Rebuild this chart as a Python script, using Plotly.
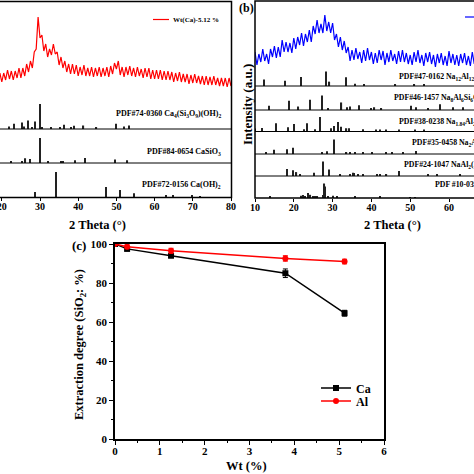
import numpy as np
import plotly.graph_objects as go

W = H = 474

# ---------------- data: panel (a) ----------------
a_start, a_step = 19.5, 0.5
a_red = [124, 115, 124, 117, 127, 118, 126, 117, 126, 119, 129, 119, 129, 121, 133, 125, 136, 129, 145, 148,
         180, 159, 162, 146, 153, 140, 148, 142, 153, 143, 145, 132, 140, 129, 136, 125, 133, 123, 133, 123,
         132, 121, 130, 122, 132, 121, 129, 121, 130, 120, 129, 121, 130, 120, 129, 121, 130, 120, 131, 123,
         134, 128, 136, 122, 130, 120, 130, 122, 131, 121, 129, 120, 130, 121, 128, 119, 129, 120, 129, 118,
         127, 118, 127, 118, 127, 117, 126, 117, 126, 117, 125, 115, 124, 116, 125, 115, 123, 115, 123, 113,
         122, 114, 123, 114, 121, 113, 121, 112, 121, 112, 120, 112, 121, 112, 119, 111, 119, 111, 119, 110,
         119, 111]
a_theta = a_start + a_step * np.arange(len(a_red))

a_names = ["PDF#74-0360 Ca<sub>4</sub>(Si<sub>3</sub>O<sub>9</sub>)(OH)<sub>2</sub>",
           "PDF#84-0654 CaSiO<sub>3</sub>",
           "PDF#72-0156 Ca(OH)<sub>2</sub>"]
a_pos = [
    [21.8, 23.1, 25.2, 25.8, 26.8, 27.9, 28.8, 29.9, 30.5, 32.8, 35.2, 36.2, 38.2, 39.0, 41.4, 44.8, 49.8, 52.0, 53.2],
    [22.5, 25.3, 26.2, 27.3, 30.1, 32.1, 35.4, 36.0, 39.1, 41.7, 49.6, 52.9],
    [18.1, 28.6, 34.1, 47.3, 50.9, 54.6, 62.9, 64.8, 69.8, 71.8],
]
a_int = [
    [0.10, 0.21, 0.26, 0.10, 0.34, 0.08, 0.30, 1.0, 0.08, 0.05, 0.08, 0.17, 0.08, 0.13, 0.14, 0.05, 0.21, 0.10, 0.14],
    [0.05, 0.08, 0.19, 0.16, 1.0, 0.08, 0.05, 0.07, 0.11, 0.20, 0.14, 0.11],
    [0.70, 0.20, 1.0, 0.40, 0.28, 0.15, 0.06, 0.08, 0.05, 0.04],
]

# ---------------- data: panel (b) ----------------
b_start, b_step = 10.0, 0.5
b_blue = [146, 133, 144, 136, 149, 137, 144, 134, 149, 141,
          152, 140, 151, 141, 158, 146, 156, 146, 155, 145,
          160, 149, 161, 153, 165, 152, 164, 156, 168, 156,
          172, 164, 178, 165, 174, 165, 183, 167, 176, 165,
          175, 158, 164, 151, 161, 148, 157, 145, 151, 137,
          148, 138, 150, 139, 146, 135, 148, 137, 150, 138,
          146, 134, 145, 135, 148, 138, 147, 133, 145, 136,
          148, 137, 144, 134, 147, 136, 148, 136, 145, 134,
          143, 133, 146, 136, 148, 135, 143, 132, 145, 136,
          146, 134, 143, 131, 144, 135, 145, 133, 142, 132,
          147, 135, 144, 133, 143, 132, 144, 135, 145, 133,
          142, 132, 146, 134, 143]
b_theta = b_start + b_step * np.arange(len(b_blue))

b_names = ["PDF#47-0162 Na<sub>12</sub>Al<sub>12</sub>Si<sub>12</sub>O<sub>48</sub>·27H<sub>2</sub>O",
           "PDF#46-1457 Na<sub>8</sub>Al<sub>6</sub>Si<sub>6</sub>O<sub>24</sub>(OH)<sub>2</sub>(H<sub>2</sub>O)<sub>2</sub>",
           "PDF#38-0238 Na<sub>1.84</sub>Al<sub>2</sub>Si<sub>2.88</sub>O<sub>9.68</sub>·2.4H<sub>2</sub>O",
           "PDF#35-0458 Na<sub>2</sub>Al<sub>2</sub>Si<sub>3</sub>O<sub>10</sub>·2H<sub>2</sub>O",
           "PDF#24-1047 NaAl<sub>2</sub>(AlSi<sub>3</sub>O<sub>10</sub>)(OH)<sub>2</sub>",
           "PDF #10-0393 NaAlSi<sub>3</sub>O<sub>8</sub>"]
b_pos = [
    [12.3, 17.7, 21.8, 28.3, 29.2, 33.5, 35.8, 38.1, 46.2, 51.1, 53.6],
    [13.7, 18.8, 21.2, 24.1, 27.3, 28.9, 32.3, 33.8, 34.5, 36.8, 39.8, 40.8, 42.6, 50.1, 51.5, 54.7, 57.7, 61.1, 63.5],
    [10.0, 11.7, 15.4, 18.6, 20.1, 22.6, 23.5, 25.5, 26.8, 29.5, 30.4, 31.3, 32.2, 33.6, 34.3, 37.9, 41.2, 42.2, 43.8, 47.2, 51.2, 53.6],
    [12.8, 14.9, 18.3, 19.7, 27.2, 28.5, 30.4, 33.6, 34.5, 35.8, 37.9, 40.1, 43.8, 45.2, 48.2, 51.4],
    [18.2, 19.7, 20.7, 21.6, 25.2, 27.6, 29.1, 31.9, 34.5, 35.3, 35.6, 36.6, 37.9, 41.4, 42.2, 43.9, 47.2, 54.6, 56.8, 62.8],
    [13.9, 21.8, 22.3, 22.9, 23.7, 24.3, 24.9, 25.5, 26.1, 27.6, 27.9, 28.1, 28.9, 30.2, 31.2, 35.8, 42.2, 50.0, 51.2],
]
b_int = [
    [0.44, 0.36, 0.62, 1.0, 0.30, 0.60, 0.15, 0.13, 0.10, 0.08, 0.08],
    [0.29, 0.64, 0.24, 0.71, 1.0, 0.07, 0.52, 0.19, 0.24, 0.33, 0.12, 0.19, 0.12, 0.29, 0.19, 0.12, 0.40, 0.19, 0.19],
    [0.20, 0.24, 0.57, 0.30, 0.51, 0.16, 0.57, 0.16, 1.0, 0.22, 0.38, 0.65, 0.32, 0.22, 0.22, 0.16, 0.10, 0.10, 0.10, 0.08, 0.08, 0.08],
    [0.14, 0.29, 0.33, 0.43, 0.14, 0.19, 1.0, 0.14, 0.10, 0.14, 0.07, 0.07, 0.14, 0.10, 0.07, 0.20],
    [0.49, 0.40, 0.27, 0.13, 0.22, 1.0, 0.44, 0.09, 0.13, 0.22, 0.20, 0.13, 0.09, 0.13, 0.09, 0.13, 0.35, 0.07, 0.07, 0.07],
    [0.07, 0.15, 0.20, 0.13, 0.35, 0.22, 0.13, 0.10, 0.07, 0.20, 1.0, 0.80, 0.10, 0.15, 0.07, 0.07, 0.07, 0.06, 0.06],
]

# ---------------- data: panel (c) ----------------
wt = [0, 0.27, 1.25, 3.8, 5.12]
ca = [100, 97.5, 94.0, 85.0, 64.5]
ca_err = [0.5, 1.0, 1.0, 2.2, 1.5]
al = [100, 98.6, 96.5, 92.6, 91.0]
al_err = [0.5, 1.0, 1.3, 1.4, 1.2]
c_xticks = [0, 1, 2, 3, 4, 5, 6]
c_yticks = [0, 20, 40, 60, 80, 100]

# ---------------- helpers ----------------
def fx(px):
    return px / W

def fy(px):
    return 1 - px / H

SERIF = "Liberation Serif"
fig = go.Figure()
shapes = []
ann = []

def bold(size):
    return dict(family=SERIF, size=size, color="black", weight="bold")

def text(t, x, y, size, xa="center", ya="middle", angle=0):
    ann.append(dict(text=t, x=fx(x), y=fy(y), xref="paper", yref="paper", xanchor=xa, yanchor=ya,
                    textangle=angle, showarrow=False, font=bold(size)))

layout = dict(
    width=W, height=H, margin=dict(l=0, r=0, t=0, b=0, pad=0, autoexpand=False), autosize=False,
    paper_bgcolor="white", plot_bgcolor="rgba(0,0,0,0)",
    showlegend=True, barmode="overlay",
)

# ---- panel (a) axes ----
layout["xaxis"] = dict(domain=[0, fx(231.5)], range=[19.53, 80.13], anchor="y4", automargin=False,
                       tickvals=[20, 30, 40, 50, 60, 70, 80], ticks="outside", ticklen=3,
                       ticklabeloverflow="allow", ticklabelstandoff=-3,
                       tickcolor="black", tickfont=bold(10), showline=False, showgrid=False,
                       zeroline=False)
layout["yaxis"] = dict(domain=[fy(197), fy(2)], range=[0, 195], anchor="x", visible=False, automargin=False)
a_base = [129, 163, 197]
for i, b in enumerate(a_base):
    layout[f"yaxis{i + 2}"] = dict(domain=[fy(b), fy(b - 28)], range=[0, 28 / 25], anchor="x",
                                   visible=False, automargin=False)

fig.add_trace(go.Scatter(x=a_theta, y=a_red, mode="lines",
                         line=dict(color="#ff0000", width=1.2, simplify=False),
                         xaxis="x", yaxis="y", showlegend=False))
for i in range(3):
    fig.add_trace(go.Bar(x=a_pos[i], y=a_int[i], width=0.3, marker=dict(color="#222", line=dict(width=0)),
                         xaxis="x", yaxis=f"y{i + 2}", showlegend=False))
    if i < 2:
        shapes.append(dict(type="line", xref="x domain", yref=f"y{i + 2} domain", x0=0, x1=1, y0=0, y1=0,
                           line=dict(color="black", width=1)))
a_label_y = [114, 152, 185]
for i in range(3):
    text(a_names[i], 223, a_label_y[i], 8, xa="right")
shapes.append(dict(type="rect", xref="paper", yref="paper", x0=fx(-3), x1=fx(231.5), y0=fy(197.5),
                   y1=fy(1.5), line=dict(color="black", width=1.5)))
# legend (a)
shapes.append(dict(type="line", xref="paper", yref="paper", x0=fx(153), x1=fx(169), y0=fy(19.5), y1=fy(19.5),
                   line=dict(color="#ff0000", width=1.2)))
text("Wt(Ca)-5.12 %", 171, 19.5, 7, xa="left")
text("2 Theta (°)", 97, 225, 12.5)

# ---- panel (b) axes ----
b_base = [86, 110, 131.5, 154, 176, 198]
b_axis_ids = [6 + i for i in range(len(b_base))]
layout["xaxis2"] = dict(domain=[fx(255), 1], range=[10, 66.44], anchor=f"y{b_axis_ids[-1]}", automargin=False,
                        tickvals=[10, 20, 30, 40, 50, 60], ticks="outside", ticklen=3,
                        ticklabeloverflow="allow", ticklabelstandoff=-3,
                        tickcolor="black", tickfont=bold(10), showline=False, showgrid=False,
                        zeroline=False)
layout["yaxis5"] = dict(domain=[fy(198), fy(1)], range=[0, 197], anchor="x2", visible=False, automargin=False)
for i, b in enumerate(b_base):
    layout[f"yaxis{b_axis_ids[i]}"] = dict(domain=[fy(b), fy(b - 20)], range=[0, 20 / 14.5], anchor="x2",
                                           visible=False, automargin=False)

fig.add_trace(go.Scatter(x=b_theta, y=b_blue, mode="lines",
                         line=dict(color="#0000ff", width=1.2, simplify=False),
                         xaxis="x2", yaxis="y5", showlegend=False))
for i in range(6):
    fig.add_trace(go.Bar(x=b_pos[i], y=b_int[i], width=0.3, marker=dict(color="#222", line=dict(width=0)),
                         xaxis="x2", yaxis=f"y{b_axis_ids[i]}", showlegend=False))
    if i < 5:
        shapes.append(dict(type="line", xref="x2 domain", yref=f"y{b_axis_ids[i]} domain", x0=0, x1=1,
                           y0=0, y1=0, line=dict(color="black", width=1)))
b_label_x = [397, 392, 397, 410, 402, 433]
b_label_y = [77, 98, 122, 143, 165, 185]
for i in range(6):
    text(b_names[i], b_label_x[i], b_label_y[i], 7.8, xa="left")
shapes.append(dict(type="rect", xref="paper", yref="paper", x0=fx(255), x1=fx(475), y0=fy(198),
                   y1=fy(1), line=dict(color="black", width=1.5)))
shapes.append(dict(type="line", xref="paper", yref="paper", x0=fx(465), x1=fx(474), y0=fy(17), y1=fy(17),
                   line=dict(color="#0000ff", width=1.2)))
text("2 Theta (°)", 392, 225, 12.5)
text("Intensity (a.u.)", 247, 104, 13, angle=-90)
text("(b)", 247, 8, 12)

# ---- panel (c) ----
layout["xaxis3"] = dict(domain=[fx(115), fx(384)], range=[0, 6], anchor="y12", automargin=False,
                        tickvals=c_xticks, ticks="outside", ticklen=4, tickwidth=1.2, tickcolor="black",
                        ticklabelstandoff=-3,
                        minor=dict(dtick=0.5, ticks="outside", ticklen=2.5, tickcolor="black"),
                        showline=True, linecolor="black", linewidth=1.5, mirror=True,
                        tickfont=bold(11), showgrid=False, zeroline=False)
layout["yaxis12"] = dict(domain=[fy(439), fy(244)], range=[0, 100], anchor="x3", automargin=False,
                         tickvals=c_yticks, ticks="outside", ticklen=4, tickwidth=1.2, tickcolor="black",
                         minor=dict(dtick=10, ticks="outside", ticklen=2.5, tickcolor="black"),
                         showline=True, linecolor="black", linewidth=1.5, mirror=True,
                         tickfont=bold(11), showgrid=False, zeroline=False)

fig.add_trace(go.Scatter(x=wt, y=ca, mode="lines+markers", name="Ca", legend="legend",
                         line=dict(color="black", width=1.5),
                         marker=dict(symbol="square", size=6, color="black"),
                         error_y=dict(type="data", array=ca_err, color="black", thickness=1, width=2.5),
                         xaxis="x3", yaxis="y12"))
fig.add_trace(go.Scatter(x=wt, y=al, mode="lines+markers", name="Al", legend="legend2",
                         line=dict(color="#ff0000", width=1.5),
                         marker=dict(symbol="circle", size=6, color="#ff0000"),
                         error_y=dict(type="data", array=al_err, color="#ff0000", thickness=1, width=2.5),
                         xaxis="x3", yaxis="y12"))

leg_common = dict(xanchor="left", yanchor="middle", bgcolor="rgba(0,0,0,0)", borderwidth=0,
                  font=bold(12), itemwidth=30, tracegroupgap=0)
layout["legend"] = dict(x=fx(316), y=fy(388), **leg_common)
layout["legend2"] = dict(x=fx(316), y=fy(401), **leg_common)

text("(c)", 79, 245, 13)
text("Extraction degree (SiO<sub>2</sub>: %)", 80, 345, 12.5, angle=-90)
text("Wt (%)", 247, 466, 12.5)

layout["shapes"] = shapes
layout["annotations"] = ann
fig.update_layout(**layout)

clip_js = (
    "document.documentElement.style.overflow='hidden';"
    "document.body.style.margin='0';document.body.style.overflow='hidden';"
    "var d=document.querySelectorAll('.plotly-graph-div');"
    "for(var i=0;i<d.length;i++){d[i].style.overflow='hidden';d[i].style.width='474px';d[i].style.height='474px';"
    "if(d[i].parentNode){d[i].parentNode.style.overflow='hidden';d[i].parentNode.style.width='474px';}}"
)
fig.write_html("out.html", config={"displayModeBar": False}, post_script=clip_js)
